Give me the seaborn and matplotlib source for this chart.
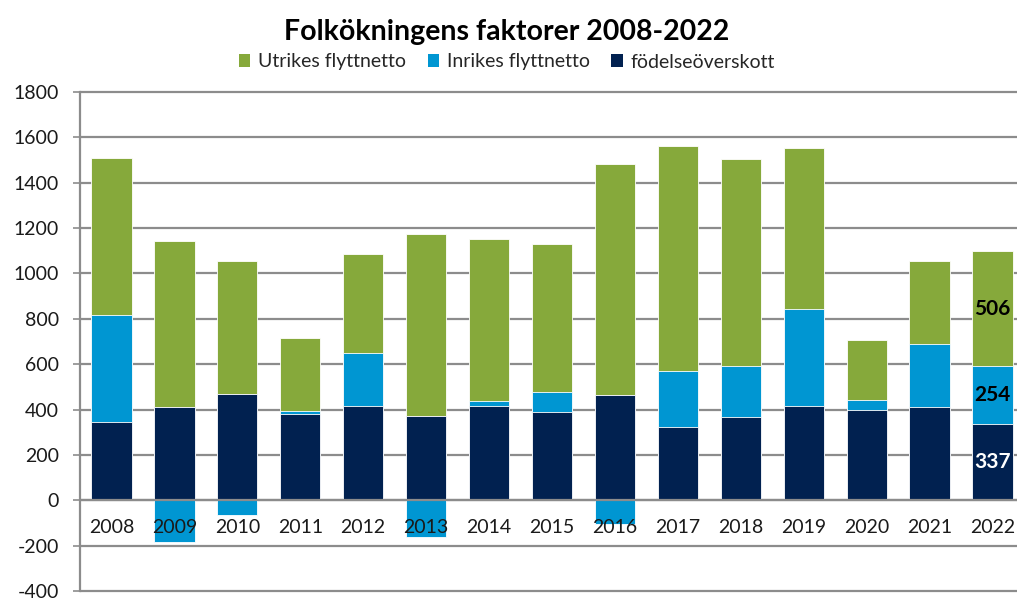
import matplotlib
matplotlib.use("Agg")
import matplotlib.pyplot as plt
import seaborn as sns
import numpy as np
import pandas as pd
from matplotlib.patches import Patch

years = [str(y) for y in range(2008, 2023)]
fodelse = [344, 410, 470, 382, 414, 372, 414, 388, 464, 322, 366, 414, 400, 410, 337]
inrikes = [471, -186, -66, 12, 237, -163, 22, 88, -106, 247, 225, 428, 42, 279, 254]
utrikes = [696, 733, 585, 320, 434, 804, 714, 656, 1019, 995, 914, 711, 263, 366, 506]
series_names = ["Utrikes flyttnetto", "Inrikes flyttnetto", "födelseöverskott"]
yticks = list(range(-400, 1801, 200))

c_utr = "#86A93B"
c_inr = "#0096D2"
c_fod = "#012150"
grid_c = "#8C8C8C"

sns.set_theme(style="white")
plt.rcParams["font.family"] = ["Lato", "DejaVu Sans"]
plt.rcParams["axes.unicode_minus"] = False

fod = np.array(fodelse, float)
inr = np.array(inrikes, float)
utr = np.array(utrikes, float)
inr_pos = np.clip(inr, 0, None)
inr_neg = np.clip(inr, None, 0)
top_inr = fod + inr_pos
top_utr = top_inr + utr

df = pd.DataFrame({"year": years, "fod": fod, "top_inr": top_inr,
                   "top_utr": top_utr, "inr_neg": inr_neg})

fig = plt.figure(figsize=(10.17, 5.98), dpi=100)
ax = fig.add_axes([80 / 1017, 7 / 598, 944 / 1017, 499 / 598])

for yv in yticks:
    ax.axhline(yv, color=grid_c, lw=1.6, zorder=0.5, clip_on=False)

w = 0.64
kw = dict(x="year", order=years, width=w, ax=ax, saturation=1,
          edgecolor="white", linewidth=0.6, zorder=2)
sns.barplot(data=df, y="top_utr", color=c_utr, **kw)
sns.barplot(data=df, y="top_inr", color=c_inr, **kw)
sns.barplot(data=df, y="fod", color=c_fod, **kw)
sns.barplot(data=df, y="inr_neg", color=c_inr, **kw)

ax.axhline(0, color=grid_c, lw=1.6, zorder=2.5)

ax.set_xlim(-0.5, len(years) - 0.5)
ax.set_ylim(-400, 1800)
ax.set_yticks(yticks)
ax.set_yticklabels([str(v) for v in yticks], fontsize=14, color="#1a1a1a")
ax.set_xticks([])
ax.set_xlabel("")
ax.set_ylabel("")
ax.tick_params(axis="y", length=5, color=grid_c, width=1.2, pad=10, left=True)
for s in ["top", "right", "bottom"]:
    ax.spines[s].set_visible(False)
ax.spines["left"].set_color(grid_c)
ax.spines["left"].set_linewidth(1.6)

for i, y in enumerate(years):
    ax.text(i, -119, y, ha="center", va="center", fontsize=14, color="#1a1a1a", zorder=5)

# data labels for last year
i = len(years) - 1
ax.text(i, fod[i] / 2, str(fodelse[i]), ha="center", va="center", fontsize=15,
        fontweight="bold", color="white", zorder=5)
ax.text(i, fod[i] + inr_pos[i] / 2, str(inrikes[i]), ha="center", va="center",
        fontsize=15, fontweight="bold", color="black", zorder=5)
ax.text(i, top_inr[i] + utr[i] / 2, str(utrikes[i]), ha="center", va="center",
        fontsize=15, fontweight="bold", color="black", zorder=5)

fig.text(507 / 1017, 1 - 32 / 598, "Folkökningens faktorer 2008-2022", ha="center",
         va="center", fontsize=20.5, fontweight="bold", color="black")

handles = [Patch(facecolor=c, edgecolor="none") for c in [c_utr, c_inr, c_fod]]
fig.legend(handles, series_names, loc="center", bbox_to_anchor=(507 / 1017, 1 - 62 / 598),
           ncol=3, frameon=False, fontsize=14, handlelength=0.6, handleheight=0.6,
           handletextpad=0.4, columnspacing=1.1, borderpad=0)

fig.savefig("out.png", dpi=100)
